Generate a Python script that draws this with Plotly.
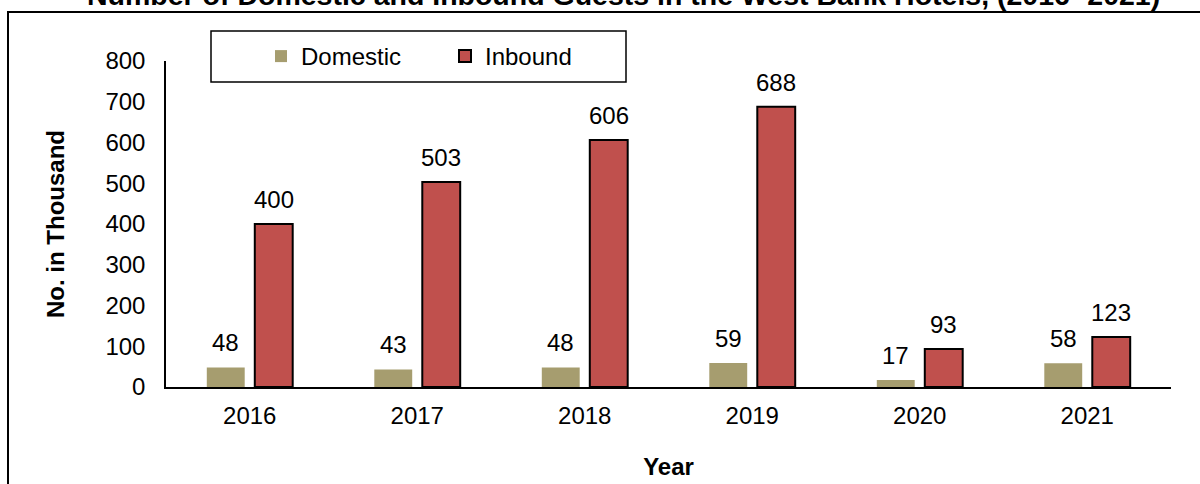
import plotly.graph_objects as go

years = ["2016", "2017", "2018", "2019", "2020", "2021"]
domestic = [48, 43, 48, 59, 17, 58]
inbound = [400, 503, 606, 688, 93, 123]

title_text = "Number of Domestic and Inbound Guests in the West Bank Hotels, (2016- 2021)"
y_ticks = [0, 100, 200, 300, 400, 500, 600, 700, 800]

W, H = 1200, 484
PL, PR, PT, PB = 166, 1171, 61, 387          # plot area in page pixels
ML, MT = PL, PT
MR, MB = W - PR, H - PB
PW = PR - PL
PH = PB - PT

FONT = "Liberation Sans, Arial, sans-serif"
FS = 24
C_DOM = "#A69D6F"
C_INB = "#C0504D"

BARGAP = 0.427
BARGROUPGAP = 0.21

fig = go.Figure()
fig.add_trace(go.Bar(name="Domestic", x=years, y=domestic,
                     marker=dict(color=C_DOM, line=dict(width=0))))
fig.add_trace(go.Bar(name="Inbound", x=years, y=inbound,
                     marker=dict(color=C_INB, line=dict(color="black", width=2))))

# data labels (category index positions on the category axis)
cat_w = PW / len(years)
slot = cat_w * (1 - BARGAP) / 2
annots = []
for i, yr in enumerate(years):
    for val, sh in ((domestic[i], -slot / 2), (inbound[i], slot / 2)):
        annots.append(dict(x=i, y=val, xref="x", yref="y", text=str(val),
                           showarrow=False, xshift=sh, yshift=9,
                           yanchor="bottom", font=dict(size=FS, color="black", family=FONT)))

def sy(py):
    return 1 + (PT - py) / PH

def sx(px):
    return (px - PL) / PW

annots.append(dict(text="<b>" + title_text + "</b>", x=sx(623), y=sy(13.5),
                   xref="paper", yref="paper", xanchor="center", yanchor="bottom",
                   showarrow=False, font=dict(size=28.5, color="black", family=FONT)))

shapes = [
    dict(type="rect", xref="paper", yref="paper",
         x0=sx(8), x1=sx(1215), y0=sy(500), y1=sy(12),
         line=dict(color="black", width=2), fillcolor="rgba(0,0,0,0)", layer="below"),
    dict(type="rect", xref="paper", yref="paper",
         x0=sx(211), x1=sx(626), y0=sy(82), y1=sy(31),
         line=dict(color="black", width=1.5), fillcolor="white", layer="below"),
]

fig.update_layout(
    width=W, height=H,
    margin=dict(l=ML, r=MR, t=MT, b=MB, pad=0, autoexpand=False),
    paper_bgcolor="white", plot_bgcolor="white",
    font=dict(family=FONT, size=FS, color="black"),
    barmode="group", bargap=BARGAP, bargroupgap=BARGROUPGAP,
    showlegend=True,
    legend=dict(orientation="h", x=sx(261), y=sy(56.5),
                xanchor="left", yanchor="middle", bgcolor="rgba(0,0,0,0)",
                borderwidth=0, font=dict(size=FS, family=FONT),
                entrywidth=139, entrywidthmode="pixels", itemclick=False),
    annotations=annots,
    shapes=shapes,
    xaxis=dict(type="category", range=[-0.5, len(years) - 0.5], showline=True,
               linecolor="black", linewidth=2, showgrid=False, automargin=False,
               ticks="", ticklabelstandoff=6, zeroline=False,
               title=dict(text="<b>Year</b>", font=dict(size=FS), standoff=30)),
    yaxis=dict(range=[0, 800], tickvals=y_ticks, showline=True, linecolor="black",
               linewidth=1.5, showgrid=False, zeroline=False, ticks="", automargin=False,
               ticklabelstandoff=14,
               title=dict(text="<b>No. in Thousand</b>", font=dict(size=FS), standoff=34)),
)

fig.write_html("out.html", config={"displayModeBar": False},
               post_script="document.body.style.margin='0';")
